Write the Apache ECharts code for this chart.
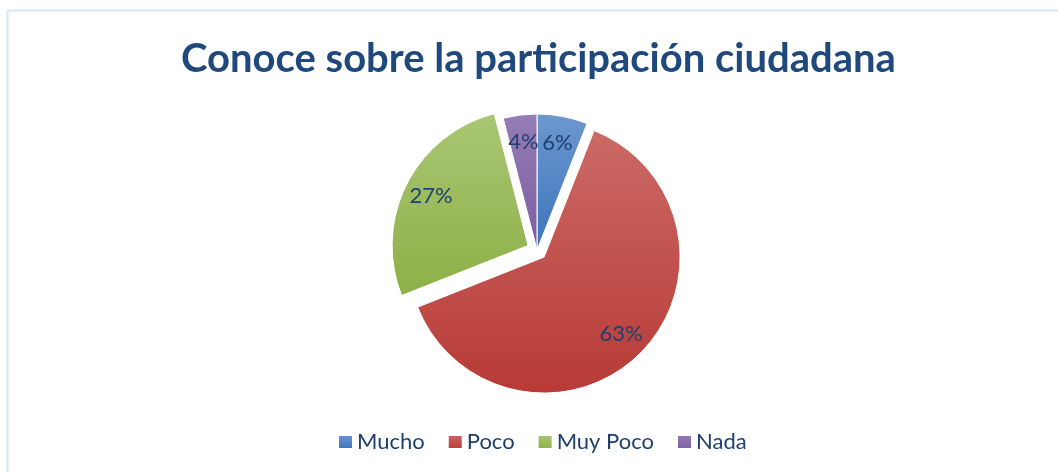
<!DOCTYPE html>
<html>
<head>
<meta charset="utf-8">
<script src="https://cdn.jsdelivr.net/npm/echarts@6/dist/echarts.min.js"></script>
<style>
  html, body { margin: 0; padding: 0; background: #fff; }
  #main { width: 1058px; height: 472px; }
</style>
</head>
<body>
<div id="main"></div>
<script>
var titleText = "Conoce sobre la participación ciudadana";
var categories = ["Mucho", "Poco", "Muy Poco", "Nada"];
var values = [6, 63, 27, 4];
// which slices are pulled out of the pie
var exploded = [false, true, true, false];
var topColors = ["#6d98d0", "#cb6a66", "#aac674", "#967db5"];
var bottomColors = ["#3d74ba", "#b83a36", "#8cb046", "#7b5ea1"];

var chartDom = document.getElementById("main");
var myChart = echarts.init(chartDom);
var option;

var pieData = categories.map(function(name, i) {
  return {
    name: name,
    value: values[i],
    selected: exploded[i],
    itemStyle: {
      color: new echarts.graphic.LinearGradient(0, 0, 0, 1, [
        { offset: 0, color: topColors[i] },
        { offset: 1, color: bottomColors[i] }
      ])
    }
  };
});

var labelData = categories.map(function(name, i) {
  return { name: name, value: values[i], selected: exploded[i] };
});

option = {
  animation: false,
  graphic: [
    {
      type: "rect",
      shape: { x: 7.5, y: 10.5, width: 1100, height: 500 },
      style: { fill: "none", stroke: "#dae5f4", lineWidth: 2 },
      silent: true
    }
  ],
  title: {
    text: titleText,
    left: 176,
    top: 34,
    textStyle: {
      fontFamily: "Lato",
      fontWeight: "bold",
      fontSize: 40,
      color: "#1f497d"
    }
  },
  legend: {
    top: 426,
    left: 332,
    itemWidth: 15,
    itemHeight: 14,
    itemGap: 22,
    icon: "rect",
    textStyle: {
      fontFamily: "Lato",
      fontSize: 22,
      color: "#1f3f6e",
      padding: [0, 0, 0, -1]
    },
    data: categories
  },
  series: [
    {
      type: "pie",
      center: [537, 250],
      radius: [0, 136],
      startAngle: 90,
      selectedMode: "multiple",
      selectedOffset: 10,
      itemStyle: { borderColor: "#fff", borderWidth: 1 },
      label: { show: false },
      labelLine: { show: false },
      emphasis: { disabled: true },
      data: pieData
    },
    {
      // transparent ring, only carries the percentage labels
      type: "pie",
      center: [537, 250],
      radius: [76, 136],
      startAngle: 90,
      selectedMode: "multiple",
      selectedOffset: 10,
      silent: true,
      itemStyle: { color: "transparent", borderWidth: 0 },
      label: {
        show: true,
        position: "inside",
        formatter: "{c}%",
        fontFamily: "Lato",
        fontSize: 22,
        color: "#1f3f6e"
      },
      labelLine: { show: false },
      emphasis: { disabled: true },
      data: labelData
    }
  ]
};

option && myChart.setOption(option);
</script>
</body>
</html>
